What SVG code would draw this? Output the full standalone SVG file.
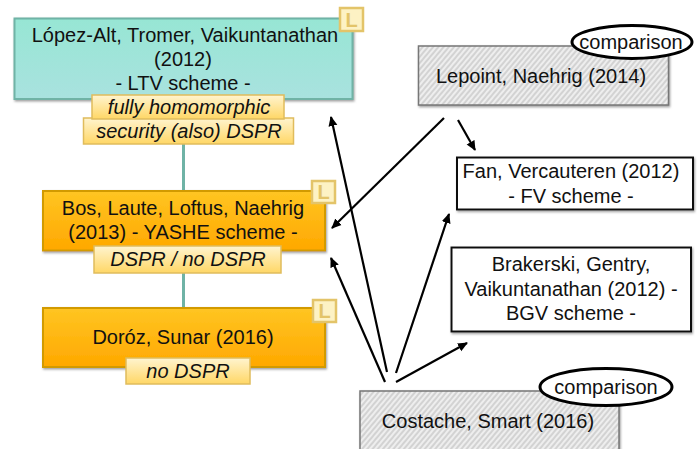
<svg xmlns="http://www.w3.org/2000/svg" width="699" height="449" viewBox="0 0 699 449">
<style>
text{font-family:"Liberation Sans",Arial,sans-serif;font-size:20px;fill:#111;text-anchor:middle}
.i{font-style:italic}
.teal{fill:url(#gt);stroke:#6fb3a6;stroke-width:2}
.or{fill:url(#go);stroke:#d29a06;stroke-width:2}
.tag{fill:url(#gy);stroke:#e0bc5c;stroke-width:1.5}
.badge{fill:#fdf2c4;stroke:#e3c469;stroke-width:2.5}
.bl{font-size:20px;font-weight:bold;fill:#e3c469}
.sk{fill:url(#h);stroke:#777;stroke-width:1.5}
.wh{fill:#fff;stroke:#111;stroke-width:2}
.el{fill:#fff;stroke:#000;stroke-width:3}
.c{fill:none;stroke:#000;stroke-width:2.200;marker-end:url(#a)}
.l{fill:none;stroke:#6fb3a6;stroke-width:3}
</style>
<defs>
<linearGradient id="gt" x1="0" y1="0" x2="0" y2="1"><stop offset="0" stop-color="#97e6d4"/><stop offset="1" stop-color="#a9e2df"/></linearGradient>
<linearGradient id="go" x1="0" y1="0" x2="0" y2="1"><stop offset="0" stop-color="#ffc522"/><stop offset="1" stop-color="#ffa800"/></linearGradient>
<linearGradient id="gy" x1="0" y1="0" x2="0" y2="1"><stop offset="0" stop-color="#fff4cf"/><stop offset="1" stop-color="#ffd766"/></linearGradient>
<pattern id="h" width="4" height="4" patternUnits="userSpaceOnUse" patternTransform="rotate(-50)"><rect width="4" height="4" fill="#eeeeee"/><line x1="0" y1="2" x2="4" y2="2" stroke="#a8a8a8" stroke-width="0.800"/></pattern>
<marker id="a" markerWidth="10" markerHeight="10" refX="9" refY="5" orient="auto" markerUnits="userSpaceOnUse"><path d="M0 0.500L10 5L0 9.500Z" fill="#000"/></marker>
<filter id="s" x="-5%" y="-5%" width="110%" height="115%"><feDropShadow dx="1" dy="1.500" stdDeviation="0.800" flood-color="#777" flood-opacity="0.700"/></filter>
</defs>
<g id="connectors">
<path class="l" d="M183.500 144V191"/>
<path class="l" d="M183.500 273V308"/>
<path class="c" d="M387 372L331 117"/>
<path class="c" d="M385 382L331 258"/>
<path class="c" d="M396 373L449 214"/>
<path class="c" d="M396 382L467 343"/>
<path class="c" d="M444 118L332 228"/>
<path class="c" d="M458 120L475 150"/>
</g>
<g id="ltv">
<rect class="teal" x="14.500" y="18.500" width="338" height="80.500" filter="url(#s)"/>
<text x="185" y="42">López-Alt, Tromer, Vaikuntanathan</text>
<text x="183" y="66">(2012)</text>
<text x="183" y="90">- LTV scheme -</text>
<rect class="tag" x="83.500" y="118" width="210" height="26"/>
<rect class="tag" x="92" y="95" width="192" height="24"/>
<text class="i" x="189" y="114">fully homomorphic</text>
<text class="i" x="189" y="138">security (also) DSPR</text>
<rect class="badge" x="340" y="8" width="23" height="23"/>
<text class="bl" x="351.500" y="26.500">L</text>
</g>
<g id="yashe">
<rect class="or" x="43" y="191" width="282" height="59.500" filter="url(#s)"/>
<text x="183" y="215">Bos, Laute, Loftus, Naehrig</text>
<text x="183" y="239">(2013) - YASHE scheme -</text>
<rect class="tag" x="94" y="246" width="187" height="27"/>
<text class="i" x="188" y="266">DSPR / no DSPR</text>
<rect class="badge" x="312" y="181" width="23" height="22"/>
<text class="bl" x="323.500" y="199">L</text>
</g>
<g id="doroz">
<rect class="or" x="43" y="308" width="282" height="59" filter="url(#s)"/>
<text x="183" y="344">Doróz, Sunar (2016)</text>
<rect class="tag" x="126" y="358" width="124" height="26"/>
<text class="i" x="188" y="378">no DSPR</text>
<rect class="badge" x="313" y="300" width="23" height="22"/>
<text class="bl" x="324.500" y="318">L</text>
</g>
<g id="lepoint">
<rect class="sk" x="418.500" y="46" width="250" height="59" filter="url(#s)"/>
<text x="541" y="83">Lepoint, Naehrig (2014)</text>
<ellipse class="el" cx="632" cy="42" rx="60" ry="16.500"/>
<text x="631" y="49">comparison</text>
</g>
<g id="fv">
<rect class="wh" x="457" y="157.500" width="236" height="52" filter="url(#s)"/>
<text x="571" y="178">Fan, Vercauteren (2012)</text>
<text x="571" y="203">- FV scheme -</text>
</g>
<g id="bgv">
<rect class="wh" x="451.500" y="247.500" width="239.500" height="84" filter="url(#s)"/>
<text x="571" y="271">Brakerski, Gentry,</text>
<text x="571" y="296">Vaikuntanathan (2012) -</text>
<text x="571" y="320">BGV scheme -</text>
</g>
<g id="costache">
<rect class="sk" x="360" y="391" width="259" height="70" filter="url(#s)"/>
<text x="488" y="428">Costache, Smart (2016)</text>
<ellipse class="el" cx="606" cy="387" rx="66" ry="18.500"/>
<text x="606" y="394">comparison</text>
</g>
</svg>
